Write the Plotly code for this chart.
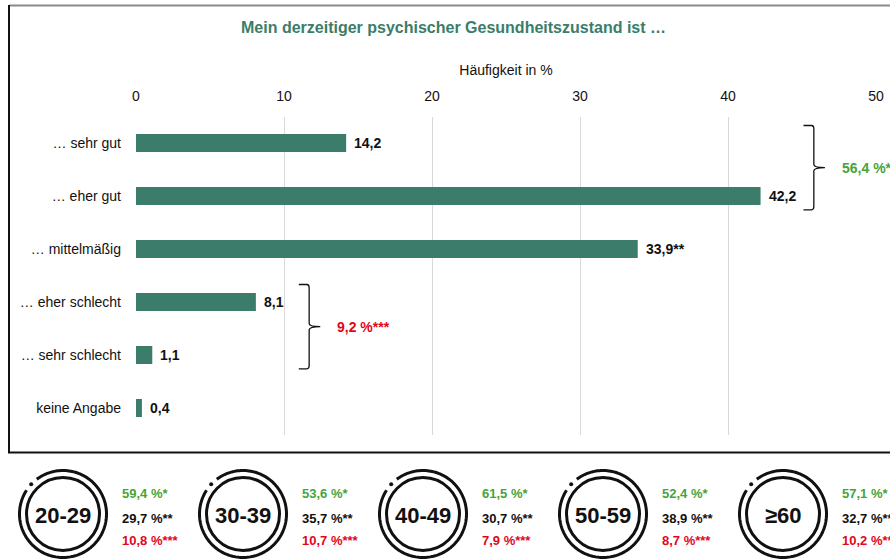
import numpy as np
import plotly.graph_objects as go

# ---- data -------------------------------------------------------------
categories = ["… sehr gut", "… eher gut", "… mittelmäßig",
              "… eher schlecht", "… sehr schlecht", "keine Angabe"]
values = [14.2, 42.2, 33.9, 8.1, 1.1, 0.4]
value_marks = ["", "", "**", "", "", ""]

x_ticks = [0, 10, 20, 30, 40, 50]

# groups of answers summed next to a brace: (first idx, last idx, mark, colour)
groups_sum = [(0, 1, "*", "#45a43a"), (3, 4, "***", "#e2061b")]

age_groups = ["20-29", "30-39", "40-49", "50-59", "≥60"]
age_good = [59.4, 53.6, 61.5, 52.4, 57.1]
age_medium = [29.7, 35.7, 30.7, 38.9, 32.7]
age_bad = [10.8, 10.7, 7.9, 8.7, 10.2]

# ---- styling ----------------------------------------------------------
W, H = 890, 560
FONT = "Liberation Sans Narrow, Arial Narrow, Liberation Sans, sans-serif"
TEAL = "#3b7d6a"
GREEN = "#45a43a"
RED = "#e2061b"
INK = "#111111"


def fmt(v):
    return f"{v:.1f}".replace(".", ",")


def px(x):
    return x / W


def py(y):
    return 1 - y / H


idx = list(range(len(categories)))

fig = go.Figure()
fig.add_trace(go.Bar(
    x=values, y=idx, orientation="h", width=0.34,
    marker=dict(color=TEAL, line=dict(width=0)),
    hoverinfo="skip", showlegend=False,
))

annotations = []
shapes = []

# value labels at the bar ends
for i, (v, m) in enumerate(zip(values, value_marks)):
    annotations.append(dict(
        x=v, y=i, xref="x", yref="y", text=f"<b>{fmt(v)}{m}</b>",
        showarrow=False, xanchor="left", yanchor="middle", xshift=6,
        font=dict(family=FONT, size=14, color=INK),
    ))

# curly braces with summed shares
for i0, i1, mark, col in groups_sum:
    total = sum(values[i0:i1 + 1])
    spine = max(values[i0:i1 + 1]) + 3.6
    hook = spine - 0.7
    tip = spine + 0.75
    yt, yb = i0 - 0.33, i1 + 0.26
    ym = (yt + yb) / 2
    r = 0.06
    path = (f"M {hook},{yt} L {spine - 0.15},{yt} Q {spine},{yt} {spine},{yt + r} "
            f"L {spine},{ym - r} Q {spine},{ym} {tip},{ym} "
            f"Q {spine},{ym} {spine},{ym + r} "
            f"L {spine},{yb - r} Q {spine},{yb} {spine - 0.15},{yb} L {hook},{yb}")
    shapes.append(dict(type="path", xref="x", yref="y", path=path,
                       line=dict(color=INK, width=1.3)))
    annotations.append(dict(
        x=tip + 1.0, y=ym, xref="x", yref="y",
        text=f"<b>{fmt(total)} %{mark}</b>", showarrow=False,
        xanchor="left", yanchor="middle",
        font=dict(family=FONT, size=14, color=col),
    ))

# frame around the chart
shapes.append(dict(type="line", xref="paper", yref="paper",
                   x0=px(9), x1=px(W + 5), y0=py(5.5), y1=py(5.5),
                   line=dict(color="#8a8a8a", width=2)))
shapes.append(dict(type="line", xref="paper", yref="paper",
                   x0=px(9), x1=px(9), y0=py(5), y1=py(452.5),
                   line=dict(color=INK, width=2)))
shapes.append(dict(type="line", xref="paper", yref="paper",
                   x0=px(8), x1=px(W + 5), y0=py(452.5), y1=py(452.5),
                   line=dict(color=INK, width=2)))

# title
annotations.append(dict(
    x=px(453), y=py(27), xref="paper", yref="paper",
    xanchor="center", yanchor="middle",
    text="<b>Mein derzeitiger psychischer Gesundheitszustand ist …</b>",
    showarrow=False, font=dict(family=FONT, size=16, color=TEAL),
))

# age-group badges with their shares
R_OUT, R_IN = 43.5, 36.5
gap_a, gap_b = np.deg2rad(147), np.deg2rad(127) + 2 * np.pi
ang = np.linspace(gap_a, gap_b, 160)
ring = "M " + " L ".join(f"{R_OUT * np.cos(a):.2f},{R_OUT * np.sin(a):.2f}" for a in ang)
dot_a = np.deg2rad(137)
dx, dy = R_OUT * np.cos(dot_a), R_OUT * np.sin(dot_a)

for k, g in enumerate(age_groups):
    cx, cy = 63 + 180 * k, 514
    common = dict(xref="paper", yref="paper", xsizemode="pixel", ysizemode="pixel",
                  xanchor=px(cx), yanchor=py(cy))
    shapes.append(dict(type="circle", x0=-R_IN, x1=R_IN, y0=-R_IN, y1=R_IN,
                       line=dict(color=INK, width=3), **common))
    shapes.append(dict(type="path", path=ring,
                       line=dict(color=INK, width=3), **common))
    shapes.append(dict(type="circle", x0=dx - 2, x1=dx + 2, y0=dy - 2, y1=dy + 2,
                       fillcolor=INK, line=dict(color=INK, width=0), **common))
    annotations.append(dict(
        x=px(cx), y=py(cy + 1), xref="paper", yref="paper", text=f"<b>{g}</b>",
        xanchor="center", yanchor="middle",
        showarrow=False, font=dict(family=FONT, size=22, color=INK),
    ))
    for yy, v, m, col in ((493, age_good[k], "*", GREEN),
                          (518, age_medium[k], "**", INK),
                          (540, age_bad[k], "***", RED)):
        annotations.append(dict(
            x=px(cx + 57), y=py(yy), xref="paper", yref="paper",
            text=f"<b>{fmt(v)} %{m}</b>", showarrow=False,
            xanchor="left", yanchor="middle",
            font=dict(family=FONT, size=13, color=col),
        ))

fig.update_layout(
    template="none",
    width=W, height=H, margin=dict(l=0, r=0, t=0, b=0, autoexpand=False),
    paper_bgcolor="white", plot_bgcolor="white",
    font=dict(family=FONT, size=13, color=INK),
    xaxis=dict(
        domain=[px(136), px(876)], range=[0, 50], side="top", automargin=False,
        tickvals=x_ticks, ticktext=[str(t) for t in x_ticks],
        showgrid=True, gridcolor="#d9d9d9", gridwidth=1,
        zeroline=False, showline=False, ticks="", ticklabelstandoff=12,
        tickfont=dict(family=FONT, size=14, color=INK),
        title=dict(text="Häufigkeit in %", standoff=8,
                   font=dict(family=FONT, size=14, color=INK)),
    ),
    yaxis=dict(
        domain=[py(434.5), py(116.5)], range=[5.5, -0.5], automargin=False,
        tickvals=idx, ticktext=categories,
        showgrid=False, zeroline=False, showline=False, ticks="",
        ticklabelstandoff=14,
        tickfont=dict(family=FONT, size=14, color=INK),
    ),
    shapes=shapes, annotations=annotations,
)

fig.write_html("out.html")
